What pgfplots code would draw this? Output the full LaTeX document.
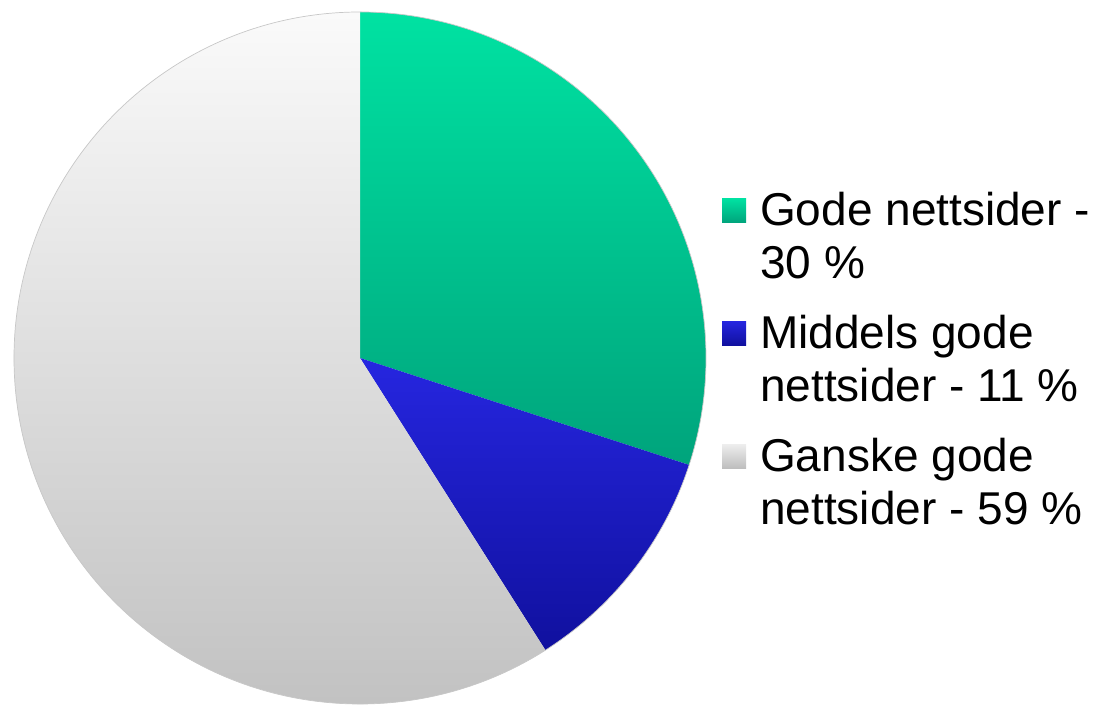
\documentclass[border=0pt]{standalone}
\usepackage{pgfplots}
\pgfplotsset{compat=1.18}
\usepackage{pgfplotstable}
\usepackage{fontspec}
\setmainfont{Liberation Sans}
\pgfplotstableread{
value
30
11
59
}\piedata
\pgfplotstablegetelem{0}{value}\of\piedata \let\va\pgfplotsretval
\pgfplotstablegetelem{1}{value}\of\piedata \let\vb\pgfplotsretval
\pgfplotstablegetelem{2}{value}\of\piedata \let\vc\pgfplotsretval
\pgfmathsetmacro\aA{90}
\pgfmathsetmacro\aB{\aA-3.6*\va}
\pgfmathsetmacro\aC{\aB-3.6*\vb}
\pgfmathsetmacro\aD{\aC-3.6*\vc}
\def\R{346pt}
\definecolor{gtop}{HTML}{00E2A2}
\definecolor{gbot}{HTML}{00A47C}
\definecolor{btop}{HTML}{2626E0}
\definecolor{bbot}{HTML}{10109E}
\definecolor{wtop}{HTML}{FAFAFA}
\definecolor{wbot}{HTML}{BEBEBE}
\begin{document}
\begin{tikzpicture}
\begin{axis}[
  at={(14pt,4pt)}, anchor=south west,
  scale only axis, width=692pt, height=692pt,
  xmin=-1, xmax=1, ymin=-1, ymax=1,
  hide axis, clip=false,
  legend image code/.code={\shade[#1] (0pt,14pt) rectangle (24pt,38pt);},
  legend style={draw=none, fill=none, at={(axis description cs:1.0231,0.7393)}, anchor=north west,
    font=\fontsize{46}{53}\selectfont, inner sep=0pt, row sep=35pt, column sep=14pt,
    nodes={inner sep=0pt}, cells={align=left}},
  legend cell align=left,
]
\shade[top color=gtop, bottom color=gbot] (axis cs:0,0) -- ++(\aA:\R) arc[start angle=\aA, end angle=\aB, radius=\R] -- cycle;
\shade[top color=btop, bottom color=bbot] (axis cs:0,0) -- ++(\aB:\R) arc[start angle=\aB, end angle=\aC, radius=\R] -- cycle;
\shade[top color=wtop, bottom color=wbot] (axis cs:0,0) -- ++(\aC:\R) arc[start angle=\aC, end angle=\aD, radius=\R] -- cycle;
\draw[black!22, line width=0.7pt] (axis cs:0,0) circle[radius=\R];
\addlegendimage{draw=none, top color=gtop, bottom color=gbot}
\addlegendentry{Gode nettsider -\\30 \%}
\addlegendimage{draw=none, top color=btop, bottom color=bbot}
\addlegendentry{Middels gode\\nettsider - 11 \%}
\addlegendimage{draw=none, top color=wtop!90!gray, bottom color=wbot}
\addlegendentry{Ganske gode\\nettsider - 59 \%}
\end{axis}
\pgfresetboundingbox
\useasboundingbox (0,0) rectangle (1104pt,708pt);
\end{tikzpicture}
\end{document}
